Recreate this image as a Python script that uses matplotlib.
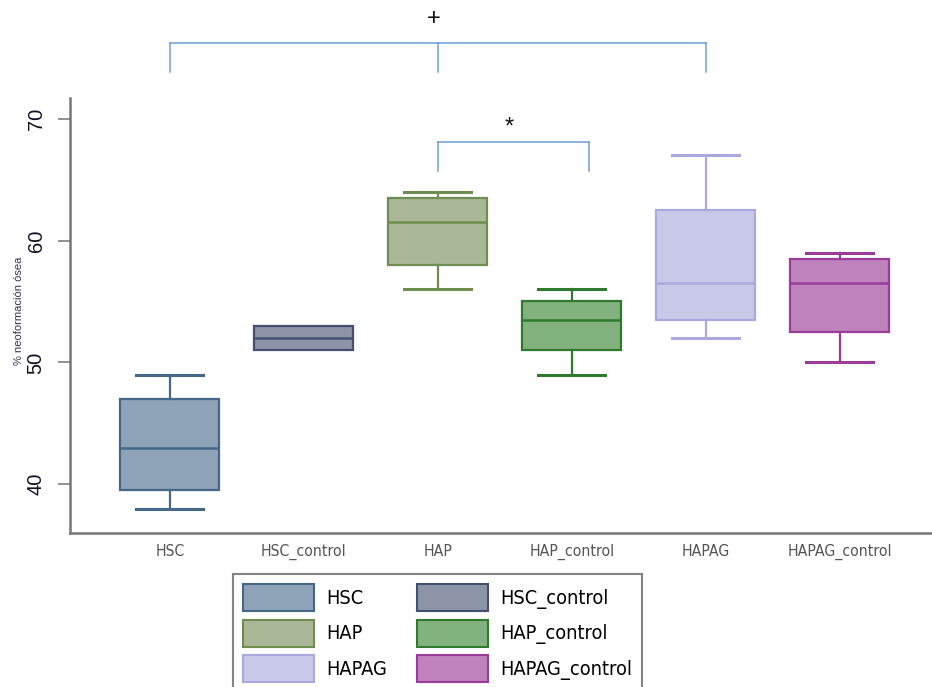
import matplotlib.pyplot as plt
from matplotlib import font_manager
from matplotlib.font_manager import FontProperties
from matplotlib.patches import Patch

plt.rcParams['font.family'] = ['Liberation Sans', 'DejaVu Sans']

# group names and box statistics
groups = ['HSC', 'HSC_control', 'HAP', 'HAP_control', 'HAPAG', 'HAPAG_control']
whislo = [38.0, 51.0, 56.0, 49.0, 52.0, 50.0]
q1 = [39.5, 51.0, 58.0, 51.0, 53.5, 52.5]
med = [43.0, 52.0, 61.5, 53.5, 56.5, 56.5]
q3 = [47.0, 53.0, 63.5, 55.0, 62.5, 58.5]
whishi = [49.0, 53.0, 64.0, 56.0, 67.0, 59.0]

fills = ['#8fa3b8', '#8e94a8', '#abb898', '#82b27e', '#c8c8e8', '#c082bc']
edges = ['#456888', '#445070', '#6f8d50', '#2f7a2f', '#aaa8dc', '#9a3c9a']

# significance brackets: (leg x positions, bracket height, leg bottom, mark, mark y, size)
brackets = [([1, 3, 5], 76.2, 73.8, '+', 78.2, 17),
            ([3, 4.13], 68.1, 65.7, '*', 69.3, 17)]

# a condensed sans face if one is installed (the legend text is narrow)
narrow = None
for f in font_manager.fontManager.ttflist:
    nm = f.name.lower()
    if ('narrow' in nm or 'condensed' in str(f.stretch)) and 'sans' in nm \
            and f.style == 'normal' and f.weight in (400, 'normal', 'regular'):
        narrow = f.fname
        break

fig = plt.figure(figsize=(9.32, 6.87), dpi=100)
ax = fig.add_axes([70 / 932, 1 - 533 / 687, 862 / 932, 435 / 687])

stats = []
for i, g in enumerate(groups):
    stats.append(dict(label=g, whislo=whislo[i], q1=q1[i], med=med[i],
                      q3=q3[i], whishi=whishi[i], fliers=[]))
pos = list(range(1, len(groups) + 1))
bp = ax.bxp(stats, positions=pos, widths=0.74, capwidths=0.5,
            patch_artist=True, showfliers=False)
for i in range(len(groups)):
    bp['boxes'][i].set_facecolor(fills[i])
    bp['boxes'][i].set_edgecolor(edges[i])
    bp['boxes'][i].set_linewidth(1.6)
    bp['medians'][i].set_color(edges[i])
    bp['medians'][i].set_linewidth(1.8)
    for k in (2 * i, 2 * i + 1):
        bp['whiskers'][k].set_color(edges[i])
        bp['whiskers'][k].set_linewidth(1.6)
        bp['caps'][k].set_color(edges[i])
        bp['caps'][k].set_linewidth(2.2)
        if whishi[i] == q3[i] and whislo[i] == q1[i]:
            bp['caps'][k].set_visible(False)

for xs, top, bot, mark, my, size in brackets:
    ax.plot([xs[0], xs[-1]], [top, top], color='#6a9fd8', lw=1.1, clip_on=False)
    for x in xs:
        ax.plot([x, x], [top, bot], color='#6a9fd8', lw=1.1, clip_on=False)
    ax.text((xs[0] + xs[-1]) / 2 - 0.03, my, mark, ha='center',
            va='center', fontsize=size, color='#111111', clip_on=False)

ax.set_xlim(0.254, 6.69)
ax.set_ylim(36, 71.7)
ax.set_yticks([40, 50, 60, 70])
ax.set_xticks(pos)
if narrow:
    ax.set_xticklabels(groups, fontproperties=FontProperties(fname=narrow, size=11.3),
                       color='#555555')
else:
    ax.set_xticklabels(groups, fontsize=10.5, color='#555555')
ax.tick_params(axis='x', length=0, pad=8)
ax.tick_params(axis='y', length=8.6, width=1.3, color='#888888', pad=9,
               labelsize=14.5, labelrotation=90, labelcolor='#111122')
for lab in ax.get_yticklabels():
    lab.set_va('center')
for s in ('top', 'right'):
    ax.spines[s].set_visible(False)
for s in ('left', 'bottom'):
    ax.spines[s].set_color('#777777')
    ax.spines[s].set_linewidth(1.8)

ax.set_ylabel('% neoformación ósea', fontsize=8, color='#333355')
ax.yaxis.set_label_coords(-0.053, 0.51)

# legend, spacing worked out from pixel sizes
if narrow:
    lsize = 14.3
    lprop = FontProperties(fname=narrow, size=lsize)
else:
    lsize = 14
    lprop = FontProperties(family='Liberation Sans', size=lsize)
em = lsize * 100 / 72
# matplotlib draws the patch at fontsize * (0.65 * handleheight + 0.245)
hh = (27 / em - 0.245) / 0.65
handles = [Patch(facecolor=fills[i], edgecolor=edges[i], linewidth=1.5,
                 label=groups[i]) for i in range(len(groups))]
order = [0, 2, 4, 1, 3, 5]
leg = fig.legend([handles[i] for i in order], [groups[i] for i in order],
                 ncol=2, loc='upper left', bbox_to_anchor=(233 / 932, 1 - 574 / 687),
                 borderaxespad=0, handlelength=71 / em,
                 handleheight=hh, handletextpad=12 / em,
                 columnspacing=30 / em, labelspacing=8.5 / em,
                 borderpad=10 / em, fancybox=False, frameon=True, prop=lprop)
leg.get_frame().set_edgecolor('#666666')
leg.get_frame().set_linewidth(1.5)

fig.savefig('out.png', dpi=100)
